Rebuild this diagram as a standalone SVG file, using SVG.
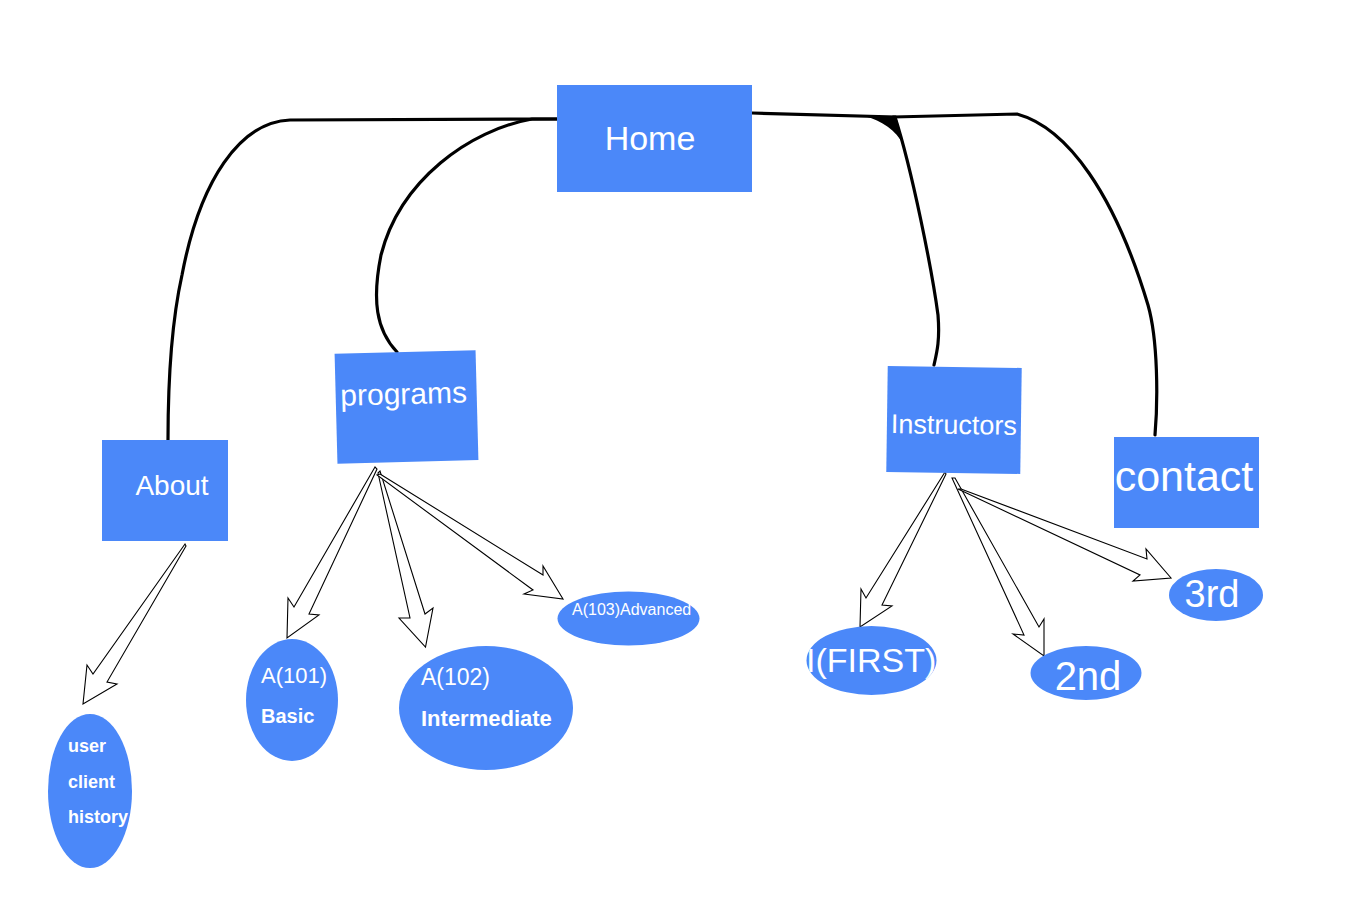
<svg xmlns="http://www.w3.org/2000/svg" width="1353" height="903" viewBox="0 0 1353 903">
<style>
.n{fill:#4b88f9}
.t{fill:#fff;font-family:"Liberation Sans",Arial,sans-serif}
.b{font-weight:bold}
.c{fill:none;stroke:#000;stroke-width:3.2;stroke-linecap:round}
.a{fill:#fff;stroke:#000;stroke-width:1.1;stroke-linejoin:miter}
</style>
<defs>
<clipPath id="clipFirst"><ellipse cx="871.5" cy="660.5" rx="65" ry="34.5"/></clipPath>
</defs>
<rect width="1353" height="903" fill="#fff"/>
<g id="connectors">
<path class="c" d="M557,119 L290,120 C240,122 200,180 182,275 C172,320 168,380 168,440"/>
<path class="c" d="M557,119 L532,119 C470,130 400,180 381,255 C372,300 376,330 397,352"/>
<path class="c" d="M752,113 L895,117 C912,170 932,270 938,315 C940,340 937,352 934,365"/>
<path d="M864,116 L896,116 L904,145 C895,130 883,121 864,116 Z" fill="#000"/>
<path class="c" d="M893,117 L1017,114 C1068,128 1115,195 1148,305 C1158,340 1158,400 1155,435"/>
<polygon class="a" points="185,544 93,674 87,665 83,704 117,684 107,682 186,546"/>
<polygon class="a" points="375,467 294,607 288,598 287,638 319,615 309,614 377,469"/>
<polygon class="a" points="378,473 410,618 399,618 425.5,647 433,608 425,614 380,471"/>
<polygon class="a" points="380,474 543,575 543,566 563,599 524,594 533,590 377,475"/>
<polygon class="a" points="945,472 866,598 861,589 860,627 892,606 882,605 946,474"/>
<polygon class="a" points="952,478 1024,635 1013,634 1044,656 1044,619 1039,627 955,478"/>
<polygon class="a" points="961,489 1147,559 1146,549 1171,578 1133,581 1140,575 958,489"/>
</g>
<g id="home">
<rect class="n" x="557" y="85" width="195" height="107"/>
<text class="t" x="650" y="150" font-size="34" text-anchor="middle">Home</text>
</g>
<g id="programs" transform="rotate(-1.5 406 407)">
<rect class="n" x="336" y="352" width="141" height="110"/>
<text class="t" x="404" y="404" font-size="30" text-anchor="middle">programs</text>
</g>
<g id="about">
<rect class="n" x="102" y="440" width="126" height="101"/>
<text class="t" x="172" y="495" font-size="28" text-anchor="middle">About</text>
</g>
<g id="instructors" transform="rotate(0.8 954 420)">
<rect class="n" x="887" y="367" width="134" height="106"/>
<text class="t" x="954" y="434" font-size="27" text-anchor="middle">Instructors</text>
</g>
<g id="contact">
<rect class="n" x="1114" y="437" width="145" height="91"/>
<text class="t" x="1184" y="491" font-size="43" text-anchor="middle">contact</text>
</g>
<g id="user">
<ellipse class="n" cx="90" cy="791" rx="42" ry="77"/>
<text class="t b" x="68" y="752" font-size="18">user</text>
<text class="t b" x="68" y="788" font-size="18">client</text>
<text class="t b" x="68" y="823" font-size="18">history</text>
</g>
<g id="a101">
<ellipse class="n" cx="292" cy="700" rx="46" ry="61"/>
<text class="t" x="261" y="683" font-size="22">A(101)</text>
<text class="t b" x="261" y="723" font-size="20">Basic</text>
</g>
<g id="a102">
<ellipse class="n" cx="486" cy="708" rx="87" ry="62"/>
<text class="t" x="421" y="685" font-size="23">A(102)</text>
<text class="t b" x="421" y="726" font-size="22">Intermediate</text>
</g>
<g id="a103">
<ellipse class="n" cx="628.5" cy="618.5" rx="71" ry="27"/>
<text class="t" x="572" y="615" font-size="16">A(103)Advanced</text>
</g>
<g id="first">
<ellipse class="n" cx="871.5" cy="660.5" rx="65" ry="34.5"/>
<text class="t" x="806" y="672" font-size="34" clip-path="url(#clipFirst)">I(FIRST)</text>
</g>
<g id="second">
<ellipse class="n" cx="1086" cy="673" rx="55.5" ry="27"/>
<text class="t" x="1088" y="690" font-size="40" text-anchor="middle">2nd</text>
</g>
<g id="third">
<ellipse class="n" cx="1216" cy="595" rx="47" ry="26"/>
<text class="t" x="1212" y="607" font-size="38" text-anchor="middle">3rd</text>
</g>
</svg>
